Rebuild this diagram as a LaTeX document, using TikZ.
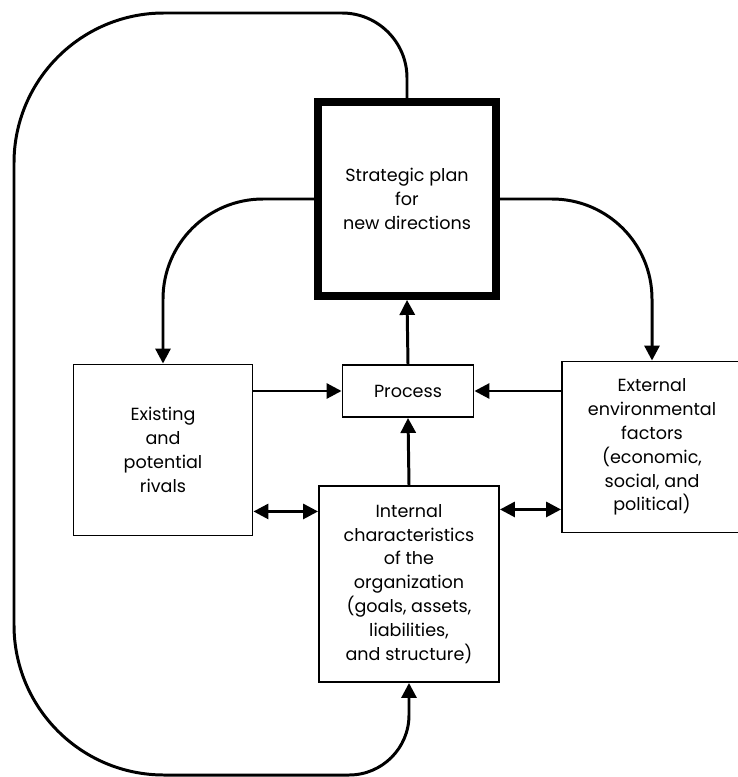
\documentclass[tikz,border=0pt]{standalone}
\usepackage{fontspec}
\setmainfont{Poppins}
\usetikzlibrary{arrows.meta}
\begin{document}
\begin{tikzpicture}[x=0.02cm,y=-0.02cm,
	box/.style={shape=rectangle,draw,line width=1.1pt,align=center,font=\fontsize{10}{13.6}\selectfont},
	arr/.style={line width=1.7pt,-{Triangle[length=3mm,width=3mm]}},
	darr/.style={line width=1.7pt,{Triangle[length=3mm,width=3mm]}-{Triangle[length=3mm,width=3mm]}}]
	\useasboundingbox (0,0) rectangle (737,777);

	\node[box,line width=4.5pt,minimum width=3.56cm,minimum height=3.88cm] (plan) at (407,199) {Strategic plan\\for\\new directions};
	\node[box,minimum width=2.62cm,minimum height=1.04cm] (process) at (408,391) {Process};
	\node[box,minimum width=3.58cm,minimum height=3.42cm] (rivals) at (163,450) {Existing\\and\\potential\\rivals};
	\node[box,minimum width=3.6cm,minimum height=3.42cm] (external) at (652,447) {External\\environmental\\factors\\(economic,\\social, and\\political)};
	\node[box,minimum width=3.6cm,minimum height=3.92cm] (internal) at (409,584) {Internal\\characteristics\\of the\\organization\\(goals, assets,\\liabilities,\\and structure)};

	\draw[arr,rounded corners=2cm] (plan.west) -| (rivals.north);
	\draw[arr,rounded corners=2cm] (plan.east) -| (external.north);
	\draw[arr] (rivals.east |- process.west) -- (process.west);
	\draw[arr] (external.west |- process.east) -- (process.east);
	\draw[arr] (process.north) -- (plan.south);
	\draw[arr] (internal.north) -- (process.south);

	\coordinate (dl) at ([yshift=0.5cm]rivals.south east);
	\coordinate (dr) at ([yshift=0.48cm]external.south west);
	\draw[darr] (dl) -- (dl -| internal.west);
	\draw[darr] (dr -| internal.east) -- (dr);

	% feedback loop
	\coordinate (tl) at (14,13);
	\coordinate (bl) at (14,775);
	\draw[arr] (plan.north) [rounded corners=1.3cm] -- (plan.north |- tl) [rounded corners=3cm] -- (tl) -- (bl) [rounded corners=1.2cm] -- (internal.south |- bl) -- (internal.south);
\end{tikzpicture}
\end{document}
